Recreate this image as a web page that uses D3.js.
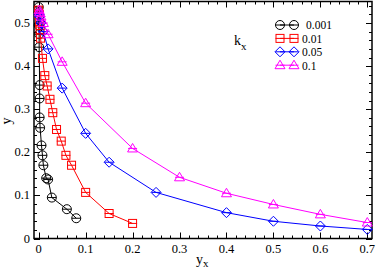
<!DOCTYPE html>
<html>
<head>
<meta charset="utf-8">
<script src="https://cdn.jsdelivr.net/npm/d3@7"></script>
<style>
  body { margin: 0; background: #fff; }
  text { font-family: "Liberation Serif", "DejaVu Serif", serif; }
</style>
</head>
<body>
<svg></svg>
<script>
// k_x values of the legend
const kLabels = ["0.001", "0.01", "0.05", "0.1"];
const colors = ["#000000", "#ff0000", "#0000ff", "#ff00ff"];
const shapes = ["circle", "square", "diamond", "triangle"];

// k_x = 0.001
const x001 = [0, 0, 0, 0.001, 0.001, 0.002, 0.002, 0.002, 0.003, 0.006, 0.008, 0.01, 0.016, 0.02, 0.028, 0.06, 0.08];
const y001 = [0.537, 0.525, 0.495, 0.474, 0.444, 0.356, 0.325, 0.281, 0.257, 0.216, 0.193, 0.17, 0.14, 0.137, 0.095, 0.068, 0.047];
// k_x = 0.01
const x01 = [0, 0.001, 0.002, 0.003, 0.004, 0.008, 0.013, 0.018, 0.024, 0.03, 0.038, 0.048, 0.058, 0.07, 0.1, 0.15, 0.2];
const y01 = [0.53, 0.52, 0.5, 0.485, 0.465, 0.418, 0.378, 0.354, 0.323, 0.292, 0.253, 0.226, 0.193, 0.17, 0.107, 0.058, 0.035];
// k_x = 0.05
const x05 = [0.001, 0.002, 0.005, 0.01, 0.02, 0.05, 0.1, 0.15, 0.25, 0.4, 0.5, 0.6, 0.7];
const y05 = [0.52, 0.515, 0.5, 0.48, 0.44, 0.349, 0.244, 0.177, 0.107, 0.06, 0.04, 0.029, 0.021];
// k_x = 0.1
const x1 = [0.001, 0.002, 0.005, 0.01, 0.02, 0.05, 0.1, 0.2, 0.3, 0.4, 0.5, 0.6, 0.7];
const y1 = [0.53, 0.525, 0.515, 0.5, 0.474, 0.41, 0.314, 0.209, 0.142, 0.105, 0.079, 0.056, 0.037];

const xTicks = [0, 0.1, 0.2, 0.3, 0.4, 0.5, 0.6, 0.7];
const yTicks = [0, 0.1, 0.2, 0.3, 0.4, 0.5];

const seriesX = [x001, x01, x05, x1];
const seriesY = [y001, y01, y05, y1];

let width = 378,
    height = 269;

const svg = d3.select("svg")
    .attr("width", width)
    .attr("height", height);

const pl = 34, pr = 372, pt = 1.5, pb = 238.5;

const x = d3.scaleLinear().domain([-0.01, 0.71]).range([pl, pr]);
const y = d3.scaleLinear().domain([0, 0.55]).range([pb, pt]);

const minorX = d3.range(0, 0.71, 0.02);
const minorY = d3.range(0, 0.55, 0.02);

// ticks pointing inward on all four sides
const axes = svg.append("g").attr("class", "axes");
function tickSet(sel, vals, len, side) {
    sel.append("g").selectAll("line")
        .data(vals)
        .enter()
        .append("line")
        .attr("stroke", "#000")
        .attr("stroke-width", 1)
        .attr("x1", d => side === "b" || side === "t" ? Math.round(x(d)) + 0.5 : (side === "l" ? pl : pr))
        .attr("x2", d => side === "b" || side === "t" ? Math.round(x(d)) + 0.5 : (side === "l" ? pl + len : pr - len))
        .attr("y1", d => side === "l" || side === "r" ? Math.round(y(d)) + 0.5 : (side === "b" ? pb : pt))
        .attr("y2", d => side === "l" || side === "r" ? Math.round(y(d)) + 0.5 : (side === "b" ? pb - len : pt + len));
}
["b", "t"].forEach(s => { tickSet(axes, xTicks, 6, s); tickSet(axes, minorX, 3, s); });
["l", "r"].forEach(s => { tickSet(axes, yTicks, 6, s); tickSet(axes, minorY, 3, s); });

axes.append("rect")
    .attr("x", pl).attr("y", pt)
    .attr("width", pr - pl).attr("height", pb - pt)
    .attr("fill", "none").attr("stroke", "#000").attr("stroke-width", 1.5);

// tick labels
svg.append("g").selectAll("text")
    .data(xTicks)
    .enter()
    .append("text")
    .attr("x", d => x(d))
    .attr("y", 253)
    .attr("text-anchor", "middle")
    .attr("font-size", 12.5)
    .text(d => d === 0 ? "0" : d3.format(".1f")(d));

svg.append("g").selectAll("text")
    .data(yTicks)
    .enter()
    .append("text")
    .attr("x", 30)
    .attr("y", d => y(d) + 4)
    .attr("text-anchor", "end")
    .attr("font-size", 12.5)
    .text(d => d === 0 ? "0" : d3.format(".1f")(d));

// axis titles
const xt = svg.append("text").attr("x", 196).attr("y", 264).attr("font-size", 14);
xt.append("tspan").text("y");
xt.append("tspan").attr("font-size", 11).attr("dy", 3).text("x");

svg.append("text")
    .attr("transform", "translate(11 121) rotate(-90)")
    .attr("text-anchor", "middle")
    .attr("font-size", 14)
    .text("y");

// marker drawing
function marker(g, shape, cx, cy) {
    const r = 4.5;
    if (shape === "circle") {
        g.append("circle").attr("cx", cx).attr("cy", cy).attr("r", r);
    } else if (shape === "square") {
        g.append("rect").attr("x", cx - 4).attr("y", cy - 4).attr("width", 8).attr("height", 8);
    } else if (shape === "diamond") {
        g.append("path").attr("d", `M${cx},${cy - 5}L${cx + 5},${cy}L${cx},${cy + 5}L${cx - 5},${cy}Z`);
    } else {
        g.append("path").attr("d", `M${cx},${cy - 5}L${cx + 5},${cy + 3.5}L${cx - 5},${cy + 3.5}Z`);
    }
    g.append("line").attr("x1", cx - r).attr("x2", cx + r).attr("y1", cy).attr("y2", cy);
}

const plot = svg.append("g").attr("class", "plot");
const line = d3.line().x(d => x(d[0])).y(d => y(d[1]));

seriesX.forEach((xs, i) => {
    const pts = xs.map((v, j) => [v, seriesY[i][j]]);
    plot.append("path")
        .attr("d", line(pts))
        .attr("fill", "none")
        .attr("stroke", colors[i])
        .attr("stroke-width", 1);
    const mg = plot.append("g")
        .attr("fill", "none")
        .attr("stroke", colors[i])
        .attr("stroke-width", 1);
    pts.forEach(p => marker(mg, shapes[i], x(p[0]), y(p[1])));
});

// legend
const kt = svg.append("text").attr("x", 234).attr("y", 45).attr("font-size", 14);
kt.append("tspan").text("k");
kt.append("tspan").attr("font-size", 11).attr("dy", 5).text("x");

const legend = svg.append("g").attr("class", "legend");
kLabels.forEach((lab, i) => {
    const ly = 25 + i * 13.4;
    const g = legend.append("g")
        .attr("fill", "none")
        .attr("stroke", colors[i])
        .attr("stroke-width", 1);
    g.append("line").attr("x1", 280).attr("x2", 294).attr("y1", ly).attr("y2", ly);
    marker(g, shapes[i], 280, ly);
    marker(g, shapes[i], 294, ly);
    legend.append("text")
        .attr("x", i === 0 ? 306 : 302)
        .attr("y", ly + 4.3)
        .attr("font-size", 11.5)
        .text(lab);
});
</script>
</body>
</html>
